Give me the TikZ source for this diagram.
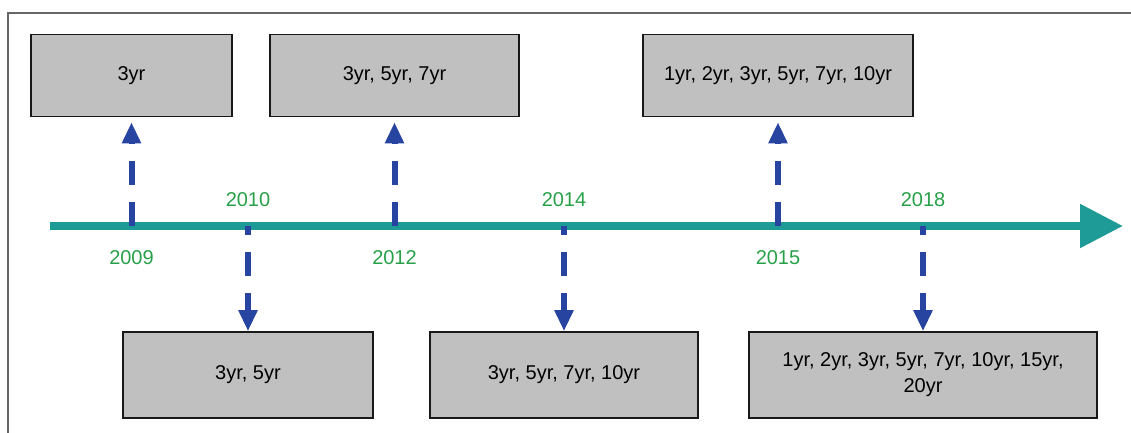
\documentclass[tikz,border=0pt]{standalone}
\usepackage{fontspec}
\setmainfont{Liberation Sans}
\usetikzlibrary{arrows.meta,calc,positioning}
\definecolor{axisteal}{RGB}{30,155,150}
\definecolor{arrowblue}{RGB}{38,68,160}
\definecolor{yeargreen}{RGB}{40,160,72}
\definecolor{boxgray}{RGB}{192,192,192}
\tikzset{%
  font=\fontsize{10}{13}\selectfont,
  block/.style={draw=black!90,line width=.8pt,fill=boxgray,align=center,inner sep=0pt},
  axis/.style={draw=axisteal,line width=4.25pt,-{Triangle[length=21.5pt,width=21pt]}},
  link/.style={draw=arrowblue,line width=3pt,dash pattern=on 12pt off 8.5pt,-{Triangle[length=10.5pt,width=9pt]}},
  year/.style={text=yeargreen,inner sep=0pt},
  frame/.style={draw=black!60,line width=1pt}
}

\begin{document}
\begin{tikzpicture}[x=.5pt,y=-.5pt]
	\useasboundingbox (0,0) rectangle (1131,433);
	\draw[frame] (8,433) -- (8,13) -- (1131,13);

	\begin{scope}[every node/.style={block,minimum height=41pt}]
	\node[minimum width=100.5pt] (b2009) at (131.5,75.5) {3yr};
	\node[minimum width=124.5pt] (b2012) at (394.5,75.5) {3yr, 5yr, 7yr};
	\node[minimum width=135pt] (b2015) at (778,75.5) {1yr, 2yr, 3yr, 5yr, 7yr, 10yr};
	\end{scope}
	\begin{scope}[every node/.style={block,minimum height=43pt}]
	\node[minimum width=125pt] (b2010) at (248,375) {3yr, 5yr};
	\node[minimum width=134pt] (b2014) at (564,375) {3yr, 5yr, 7yr, 10yr};
	\node[minimum width=174pt] (b2018) at (923,375) {1yr, 2yr, 3yr, 5yr, 7yr, 10yr, 15yr,\\ 20yr};
	\end{scope}

	% time line
	\coordinate (start) at (50,226);
	\coordinate (end) at (1123,226);
	\draw[axis] (start) -- (end);
	\foreach \y in {2009,2010,2012,2014,2015,2018} {%
		\coordinate (t\y) at (b\y |- start);
	}

	\foreach \y in {2009,2012,2015} {%
		\draw[link,shorten >=2.5pt] (t\y) -- (b\y.south);
		\node[year,below=12pt] at (t\y) {\y};
	}
	\foreach \y in {2010,2014,2018} {%
		\draw[link,dash phase=7.5pt] (t\y) -- (b\y.north);
		\node[year,above=9.5pt] at (t\y) {\y};
	}
\end{tikzpicture}
\end{document}
